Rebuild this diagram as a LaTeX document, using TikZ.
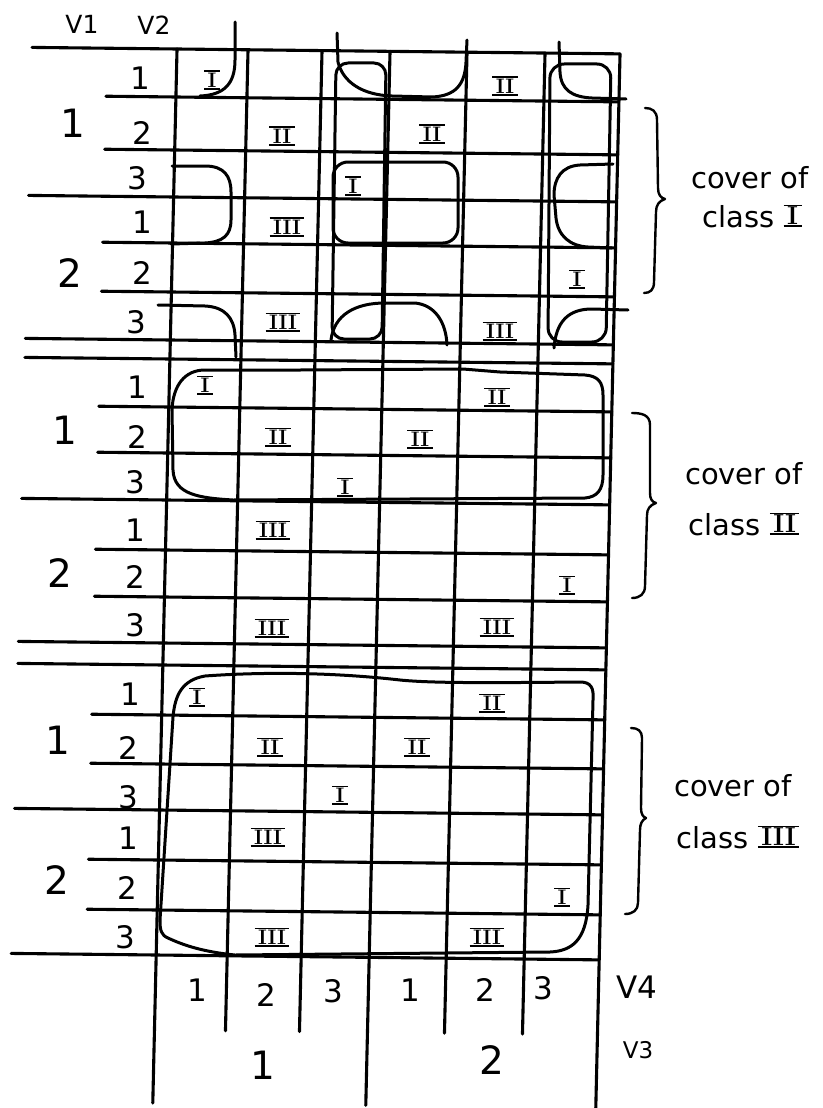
\documentclass[tikz,border=0pt]{standalone}
\usepackage{fontspec}
\setsansfont{DejaVu Sans}
\newcommand\rom[2][21]{\setbox0\hbox{\rmfamily\bfseries\fontsize{#1}{#1}\selectfont #2}%
  \dimen0=\wd0 \advance\dimen0 by 7pt
  \vbox{\hrule width\dimen0 height 1.7pt\kern0.6pt\hbox to\dimen0{\hss\copy0\hss}\kern0.6pt\hrule width\dimen0 height 1.7pt}}
\begin{document}
\begin{tikzpicture}[x=1pt,y=-1pt,
  gl/.style={line width=3.1pt,line cap=round},
  cov/.style={line width=3pt,line cap=round,line join=round},
  br/.style={line width=2.4pt,line cap=round,line join=round},
  dig/.style={font=\sffamily\fontsize{31}{31}\selectfont,inner sep=0pt},
  bigd/.style={font=\sffamily\fontsize{39}{39}\selectfont,inner sep=0pt},
  var/.style={font=\sffamily\fontsize{25}{25}\selectfont,inner sep=0pt},
  rn/.style={inner sep=0pt},
  txt/.style={font=\sffamily\fontsize{29}{29}\selectfont,inner sep=0pt}]
\useasboundingbox[fill=white] (0,0) rectangle (822,1108);
% ---------- grid (slanted like the hand drawing)
\begin{scope}[cm={1,-0.011,0.023,1,(1.15pt,1.95pt)}]
  \foreach \x in {177,390,620} \draw[gl] (\x,49) -- (\x,1103);
  \foreach \x in {248,322,467,545} \draw[gl] (\x,49) -- (\x,1030);
  \foreach \y in {49,197,340,359,500,643,665,810,955} \draw[gl] (32,\y) -- (620,\y);
  \foreach \y in {97,150,243,292,407,453,550,597,715,764,860,910} \draw[gl] (107,\y) -- (620,\y);
\end{scope}
% ---------- header
\node[var] (hv1) at (82,24) {V1};
\node[var] (hv2) at (154,25) {V2};
% ---------- row labels
\foreach \x/\y/\t [count=\i] in {140/78/1,142/133/2,137/178/3,142/222/1,142/273/2,136/322/3,
  137/387/1,137/437/2,135/482/3,135/530/1,135/577/2,135/625/3,
  130/694/1,128/748/2,128/797/3,128/838/1,127/888/2,125/937/3}
  \node[dig] (r\i) at (\x,\y) {\t};
\foreach \x/\y/\t [count=\i] in {73/123/1,70/273/2,65/430/1,60/573/2,58/740/1,57/880/2}
  \node[bigd] (q\i) at (\x,\y) {\t};
% ---------- cell entries
\foreach \x/\y/\t [count=\i] in {212/80/I,505/86/II,282/136/II,432/134/II,353/186/I,287/227/III,577/279/I,283/322/III,500/331/III,
  205/385/I,497/397/II,278/437/II,420/439/II,345/487/I,273/530/III,567/585/I,272/628/III,497/627/III,
  197/697/I,492/703/II,270/747/II,417/747/II,340/795/I,268/837/III,562/897/I,272/937/III,487/937/III}
  \node[rn] (c\i) at (\x,\y) {\rom{\t}};
% ---------- column labels
\foreach \x/\y/\t [count=\i] in {197/990/1,266/995/2,333/991/3,410/990/1,485/990/2,543/988/3}
  \node[dig] (v\i) at (\x,\y) {\t};
\node[bigd] (w1) at (263,1065) {1};
\node[bigd] (w2) at (492,1060) {2};
\node[var,font=\sffamily\fontsize{31}{31}\selectfont] (hv4) at (637,987) {V4};
\node[var,font=\sffamily\fontsize{23}{23}\selectfont] (hv3) at (638,1050) {V3};
% ---------- cover of class I (section 1)
\draw[cov] (235,22) -- (235,60) .. controls (235,84) and (224,95) .. (200,96);
\draw[cov] (172,166) -- (205,166) .. controls (224,166) and (231,176) .. (231,192) -- (231,220)
  .. controls (231,236) and (222,242) .. (205,243) -- (171,244);
\draw[cov] (158,305) -- (205,306) .. controls (225,307) and (234,318) .. (235,335) -- (236,357);
\draw[cov] (337,33) -- (338,62) .. controls (343,82) and (362,95) .. (392,96) -- (432,97)
  .. controls (456,96) and (465,84) .. (466,62) -- (467,40);
\draw[cov,rounded corners=12pt] (361,63) -- (386,63) -- (382,339) -- (332,339) -- (336,63) -- cycle;
\draw[cov] (331,340) .. controls (334,315) and (355,303) .. (385,303) -- (415,303)
  .. controls (435,305) and (446,322) .. (447,345);
\draw[cov,rounded corners=15pt] (395,162) -- (458,162) -- (458,243) -- (333,243) -- (333,162) -- cycle;
\draw[cov] (613,164) -- (580,165) .. controls (562,166) and (554,178) .. (554,195) -- (556,218)
  .. controls (558,236) and (570,246) .. (588,247) -- (612,248);
\draw[cov,rounded corners=14pt] (580,64) -- (611,64) -- (606,342) -- (548,342) -- (550,64) -- cycle;
\draw[cov] (559,42) -- (560,72) .. controls (561,90) and (572,97) .. (592,98) -- (626,99);
\draw[cov] (628,310) -- (592,309) .. controls (568,309) and (556,322) .. (554,348);
% ---------- cover of class II (section 2)
\draw[cov] (300,370) -- (463,369) -- (500,372) -- (585,375) .. controls (598,376) and (603,382) .. (603,395)
  -- (603,475) .. controls (603,490) and (597,497) .. (585,498) -- (233,500)
  .. controls (200,498) and (174,495) .. (173,470) -- (172,410)
  .. controls (173,385) and (185,370) .. (205,370) -- cycle;
% ---------- cover of class III (section 3)
\draw[cov] (205,676) .. controls (260,672) and (330,672) .. (400,680) .. controls (430,683) and (480,683) .. (580,682)
  .. controls (591,682) and (594,688) .. (593,700)
  -- (588,905) .. controls (586,940) and (572,951) .. (550,952) -- (235,955)
  .. controls (205,952) and (185,946) .. (168,938) .. controls (161,935) and (160,930) .. (160,920)
  -- (173,717) .. controls (175,695) and (182,680) .. (205,676) -- cycle;
% ---------- braces
\draw[br] (645,108) .. controls (652,108) and (657,111) .. (657,120) -- (658,188)
  .. controls (658,195) and (661,198) .. (665,199) .. controls (659,201) and (656,205) .. (656,212)
  -- (654,282) .. controls (654,290) and (650,293) .. (644,293);
\draw[br] (632,413) .. controls (642,413) and (650,415) .. (650,425) -- (650,493)
  .. controls (650,499) and (652,502) .. (656,503) .. controls (650,505) and (647,509) .. (647,515)
  -- (645,586) .. controls (645,594) and (640,598) .. (632,598);
\draw[br] (631,728) .. controls (638,728) and (642,731) .. (642,738) -- (641,808)
  .. controls (641,814) and (643,817) .. (646,818) .. controls (642,820) and (640,824) .. (640,830)
  -- (638,903) .. controls (638,910) and (633,914) .. (625,914);
% ---------- brace texts
\node[txt] (t1a) at (750,178) {cover of};
\node[txt] (t1b) at (752,216) {class \rom[26]{I}};
\node[txt] (t2a) at (744,474) {cover of};
\node[txt] (t2b) at (744,524) {class \rom[26]{II}};
\node[txt] (t3a) at (733,786) {cover of};
\node[txt] (t3b) at (738,837) {class \rom[26]{III}};
\end{tikzpicture}
\end{document}
